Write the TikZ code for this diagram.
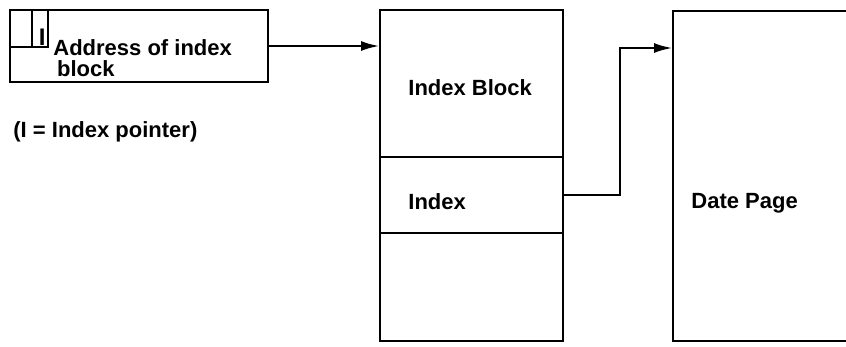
\documentclass[tikz,border=0pt]{standalone}
\usepackage{fontspec}
\setmainfont{Liberation Sans}
\usetikzlibrary{arrows.meta}

\begin{document}
\begin{tikzpicture}[x=1pt,y=-1pt,line width=2.8pt,
  box/.style={draw,rectangle,inner sep=0pt,outer sep=0pt,anchor=north west},
  lbl/.style={anchor=base west,inner sep=0pt,font=\fontsize{22}{21}\selectfont\bfseries},
  ptr/.style={-{Latex[length=19pt,width=10pt]}}]
\useasboundingbox (0,0) rectangle (846,346);
\node [box,minimum width=258pt,minimum height=72pt] (addr) at (10,10) {};
\node [box,minimum width=22pt,minimum height=37pt] (cellA) at (10,10) {};
\node [box,minimum width=16pt,minimum height=37pt] (cellB) at (cellA.north east) {};
\node [lbl,anchor=base east,font=\fontsize{24}{21}\selectfont\bfseries] (iptr) at (47,45) {I};
\node [lbl,anchor=north west,align=left] (addrtxt) at (52,38) {Address of index\\\,block};
\node [lbl] (note) at (12,137) {(I = Index pointer)};
\node [box,minimum width=183pt,minimum height=147pt] (ixblock) at (380,10) {};
\node [box,minimum width=183pt,minimum height=76pt] (ixentry) at (ixblock.south west) {};
\node [box,minimum width=183pt,minimum height=108pt] (ixfree) at (ixentry.south west) {};
\node [lbl] (ixblocktxt) at (407,95) {Index Block};
\node [lbl] (ixentrytxt) at (407,209) {Index};
\node [box,minimum width=190pt,minimum height=330pt] (page) at (673,11) {};
\node [lbl] (pagetxt) at (690,208) {Date Page};
\coordinate (pagein) at (673,48);
\draw [ptr] (addr.east) -- (ixblock.west |- addr.east);
\draw [ptr] (ixentry.east) -- ++(57,0) |- (pagein);
\end{tikzpicture}
\end{document}
